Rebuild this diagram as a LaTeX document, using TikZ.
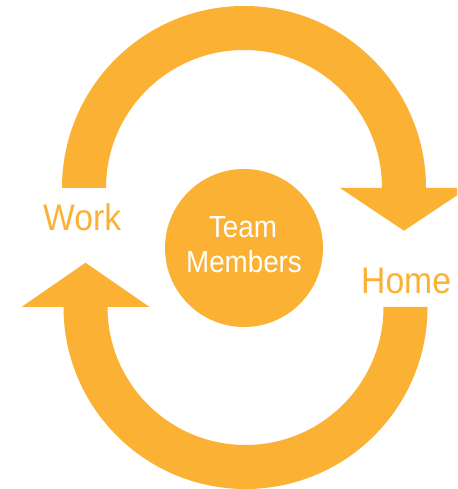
\documentclass[tikz,border=0pt]{standalone}
\usepackage{fontspec}
\newfontfamily\labfont[FakeStretch=0.91]{Liberation Sans}
\definecolor{accent}{RGB}{251,177,52}
\begin{document}
\begin{tikzpicture}[x=1pt,y=1pt,
  band/.style={fill=accent,draw=none},
  outlabel/.style={inner sep=0pt,text=accent,font=\labfont\fontsize{37}{40}\selectfont},
  hub/.style={circle,fill=accent,minimum size=158pt,inner sep=0pt,align=center,text=white,
              font=\labfont\fontsize{30.5}{35}\selectfont}]
\clip (0,0) rectangle (457,489);
\useasboundingbox (0,0) rectangle (457,489);
% top arrow (Work -> Home)
\path[band] (62,301) arc[start angle=180,end angle=0,radius=182]
  -- (468,301) -- (404,258.3) -- (340,301) -- (382,301)
  arc[start angle=0,end angle=180,radius=138] -- cycle;
% bottom arrow (Home -> Work)
\path[band] (427.5,182) arc[start angle=0,end angle=-180,radius=182]
  -- (21.5,182) -- (85.5,226.3) -- (149.5,182) -- (107.5,182)
  arc[start angle=180,end angle=360,radius=138] -- cycle;
% hub
\node[hub] (hub) at (244,241) {};
\node[inner sep=0pt,text=white,font=\labfont\fontsize{30.5}{35}\selectfont,anchor=base] (team) at (243,251.7) {Team};
\node[inner sep=0pt,text=white,font=\labfont\fontsize{30.5}{35}\selectfont,anchor=base] (members) at (244,216.7) {Members};
% labels
\node[outlabel,anchor=base west] (work) at (43,258.3) {Work};
\node[outlabel,anchor=base west] (home) at (361,195.7) {Home};
\end{tikzpicture}
\end{document}
